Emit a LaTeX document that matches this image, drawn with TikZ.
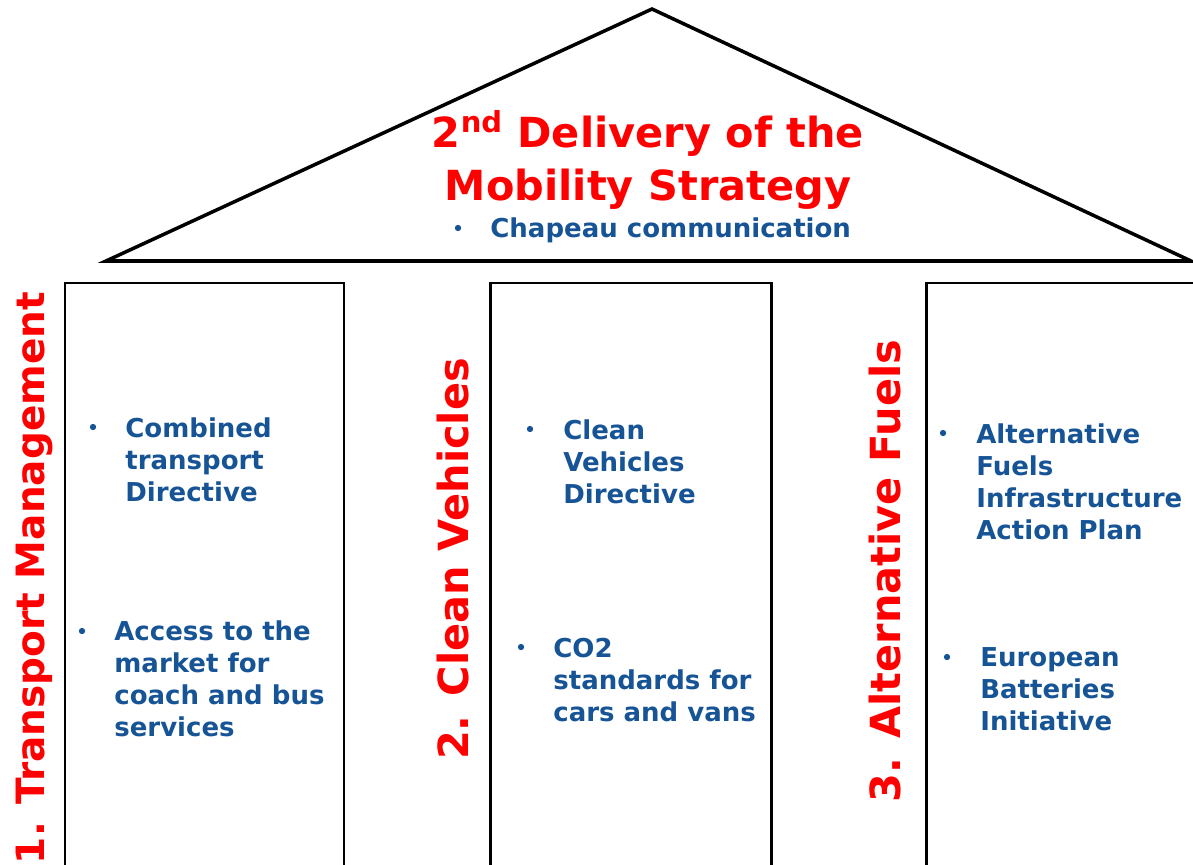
\documentclass[tikz,border=0pt]{standalone}
\usepackage{fontspec}
\setmainfont{DejaVu Sans}
\usepackage{tikz}
\usetikzlibrary{positioning}
\definecolor{eublue}{RGB}{22,84,150}
\tikzset{
  roofline/.style={ draw, line width=2pt, line join=miter }
}
\tikzset{
  pillar/.style={ draw, line width=1.7pt }
}
\tikzset{
  title/.style={ text=red, font=\fontsize{23.6}{29.6}\selectfont\bfseries, align=center, anchor=base, inner sep=0 }
}
\tikzset{
  pillarname/.style={ text=red, font=\fontsize{23.6}{29.6}\selectfont\bfseries, rotate=90, anchor=base, inner sep=0 }
}
\tikzset{
  item/.style={ text=eublue, font=\fontsize{14.8}{18.2}\selectfont\bfseries, align=left, anchor=base west, inner sep=0 }
}
\tikzset{
  dot/.style={ circle, fill=eublue, inner sep=0, minimum size=3.6pt }
}
\begin{document}
\begin{tikzpicture}[x=0.02cm, y=-0.02cm]
      \useasboundingbox (0,0) rectangle (1193,865);
      \clip (0,0) rectangle (1193,865);

      % roof
      \coordinate (apex) at (652, 9);
      \coordinate (eaveL) at (106, 261);
      \coordinate (eaveR) at (1191, 261);
      \draw[roofline] (eaveL) -- (apex) -- (eaveR) -- cycle;

      % pillars (they run on below the page)
      \draw[pillar] (65, 283) rectangle (344, 900);
      \draw[pillar] (490, 283) rectangle (771, 900);
      \draw[pillar] (926, 283) rectangle (1230, 900);

      % base of a multi-line node = base of its last line
      \node[title] (head) at (648, 200) {2\textsuperscript{nd} Delivery of the\\Mobility Strategy};
      \node[dot] (chapdot) at (458, 228) {};
      \node[item] (chap) at (490, 237) {Chapeau communication};

      \node[pillarname, font=\fontsize{22.2}{28}\selectfont\bfseries] (tm) at (44, 578) {1. Transport Management};
      \node[pillarname] (cv) at (468, 559) {2. Clean Vehicles};
      \node[pillarname] (af) at (900, 571) {3. Alternative Fuels};

      \node[dot] (tm1dot) at (93, 427) {};
      \node[item] (tm1) at (125, 501) {Combined\\transport\\Directive};
      \node[dot] (tm2dot) at (82, 631) {};
      \node[item] (tm2) at (114, 736) {Access to the\\market for\\coach and bus\\services};

      \node[dot] (cv1dot) at (530, 429) {};
      \node[item] (cv1) at (563, 503) {Clean\\Vehicles\\Directive};
      \node[dot] (cv2dot) at (521, 647) {};
      \node[item] (cv2) at (553, 721) {CO2\\standards for\\cars and vans};

      \node[dot] (af1dot) at (943, 433) {};
      \node[item] (af1) at (976, 539) {Alternative\\Fuels\\Infrastructure\\Action Plan};
      \node[dot] (af2dot) at (947, 657) {};
      \node[item] (af2) at (980, 730) {European\\Batteries\\Initiative};

    \end{tikzpicture}
\end{document}
